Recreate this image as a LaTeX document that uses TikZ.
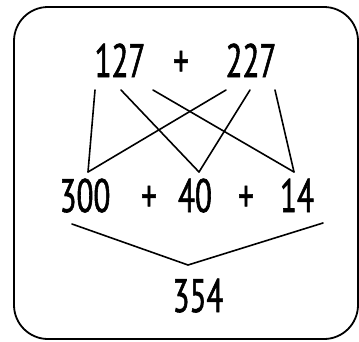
\documentclass[tikz,border=0pt]{standalone}
\usepackage{fontspec}
\newfontfamily\digfont[FakeStretch=0.66,FakeBold=1.2]{PT Sans}
\begin{document}
\begin{tikzpicture}[x=1pt,y=-1pt,
  num/.style={inner sep=0pt,anchor=base,font=\digfont\fontsize{47}{50}\selectfont},
  link/.style={line width=1.6pt,line cap=round,line join=round}]
\useasboundingbox (0,0) rectangle (359,341);
\draw[line width=1.8pt,rounded corners=34pt] (14,7) rectangle (358,339);
% top row
\node[num] (a) at (120,77) {127};
\node[num] (p1) at (181,77) {+};
\node[num] (b) at (251,77) {227};
% second row
\node[num] (c) at (85,212) {300};
\node[num] (p2) at (149,212) {+};
\node[num] (d) at (195,212) {40};
\node[num] (p3) at (246,212) {+};
\node[num] (e) at (297,212) {14};
% result
\node[num] (f) at (198,312) {354};
% endpoints
\coordinate (a1) at (95,90);
\coordinate (a2) at (121,90);
\coordinate (a3) at (153,90);
\coordinate (b1) at (226,90);
\coordinate (b2) at (250,90);
\coordinate (b3) at (275,90);
\coordinate (c0) at (88,172);
\coordinate (d0) at (199,172);
\coordinate (e0) at (294,172);
\coordinate (vl) at (72,224);
\coordinate (vm) at (188,265);
\coordinate (vr) at (323,223);
\draw[link] (a1) -- (c0);
\draw[link] (a2) -- (d0);
\draw[link] (a3) -- (e0);
\draw[link] (b1) -- (c0);
\draw[link] (b2) -- (d0);
\draw[link] (b3) -- (e0);
\draw[link] (vl) -- (vm) -- (vr);
\end{tikzpicture}
\end{document}
